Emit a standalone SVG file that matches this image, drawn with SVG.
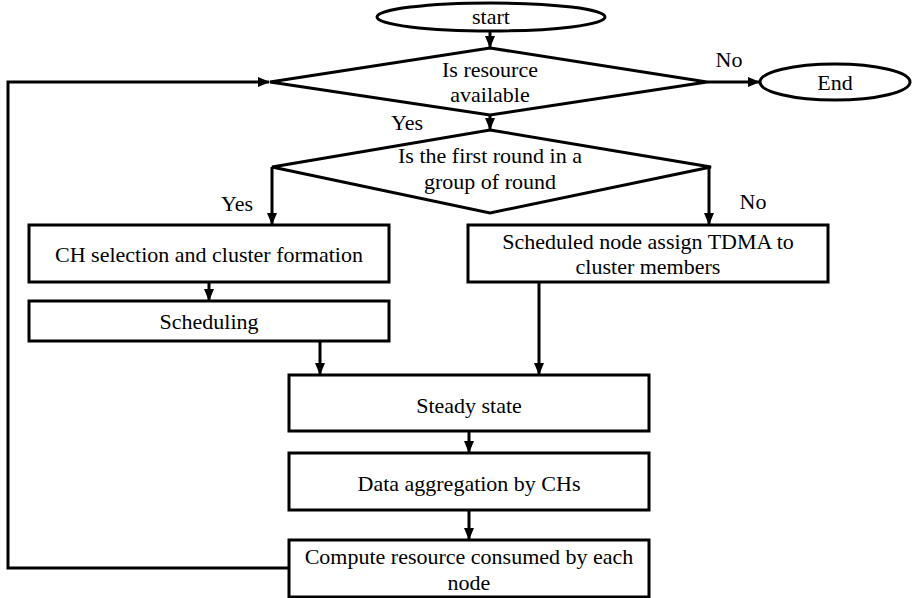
<svg xmlns="http://www.w3.org/2000/svg" width="912" height="598" viewBox="0 0 912 598">
  <style>
    .shape { fill: #ffffff; stroke: #000000; stroke-width: 3; }
    .edge { fill: none; stroke: #000000; stroke-width: 3; }
    text { font-family: 'Liberation Serif', 'Times New Roman', Times, serif; font-size: 22px; fill: #000000; text-anchor: middle; }
  </style>
  <defs>
    <marker id="arrow" markerUnits="userSpaceOnUse" markerWidth="12" markerHeight="10" refX="11" refY="5" orient="auto">
      <path d="M0,0 L12,5 L0,10 Z" fill="#000000"/>
    </marker>
  </defs>
  <rect width="912" height="598" fill="#ffffff"/>

  <!-- connectors -->
  <g id="connectors">
    <line class="edge" x1="490" y1="31" x2="490" y2="47" marker-end="url(#arrow)"/>
    <line class="edge" x1="707" y1="82" x2="759" y2="82" marker-end="url(#arrow)"/>
    <line class="edge" x1="490" y1="115" x2="490" y2="129" marker-end="url(#arrow)"/>
    <polyline class="edge" points="272,167 272,224" marker-end="url(#arrow)"/>
    <polyline class="edge" points="709,167 709,224" marker-end="url(#arrow)"/>
    <line class="edge" x1="209" y1="282" x2="209" y2="300" marker-end="url(#arrow)"/>
    <line class="edge" x1="320" y1="341" x2="320" y2="374" marker-end="url(#arrow)"/>
    <line class="edge" x1="539" y1="282" x2="539" y2="374" marker-end="url(#arrow)"/>
    <line class="edge" x1="469" y1="431" x2="469" y2="452" marker-end="url(#arrow)"/>
    <line class="edge" x1="469" y1="510" x2="469" y2="539" marker-end="url(#arrow)"/>
    <polyline class="edge" points="290,568 8,568 8,82 269,82" marker-end="url(#arrow)"/>
    <text x="729" y="67">No</text>
    <text x="407" y="130">Yes</text>
    <text x="237" y="211">Yes</text>
    <text x="753" y="209">No</text>
  </g>

  <g id="start">
    <ellipse class="shape" cx="491" cy="17" rx="114" ry="14"/>
    <text x="491" y="24">start</text>
  </g>

  <g id="end">
    <ellipse class="shape" cx="835" cy="82" rx="75" ry="18"/>
    <text x="835" y="90">End</text>
  </g>

  <g id="resource-check">
    <polygon class="shape" points="490,48 707,82 490,115 270,82"/>
    <text x="490" y="77">Is resource</text>
    <text x="490" y="102">available</text>
  </g>

  <g id="first-round-check">
    <polygon class="shape" points="490,130 711,167 490,213 272,167"/>
    <text x="490" y="163">Is the first round in a</text>
    <text x="490" y="189">group of round</text>
  </g>

  <g id="ch-selection">
    <rect class="shape" x="29" y="225" width="360" height="57"/>
    <text x="209" y="262">CH selection and cluster formation</text>
  </g>

  <g id="scheduling">
    <rect class="shape" x="29" y="301" width="360" height="40"/>
    <text x="209" y="329">Scheduling</text>
  </g>

  <g id="tdma-assign">
    <rect class="shape" x="468" y="225" width="360" height="57"/>
    <text x="648" y="249">Scheduled node assign TDMA to</text>
    <text x="648" y="274">cluster members</text>
  </g>

  <g id="steady-state">
    <rect class="shape" x="289" y="375" width="360" height="56"/>
    <text x="469" y="413">Steady state</text>
  </g>

  <g id="data-aggregation">
    <rect class="shape" x="289" y="453" width="360" height="57"/>
    <text x="469" y="491">Data aggregation by CHs</text>
  </g>

  <g id="compute-resource">
    <rect class="shape" x="289" y="540" width="360" height="57"/>
    <text x="469" y="564">Compute resource consumed by each</text>
    <text x="469" y="590">node</text>
  </g>
</svg>
